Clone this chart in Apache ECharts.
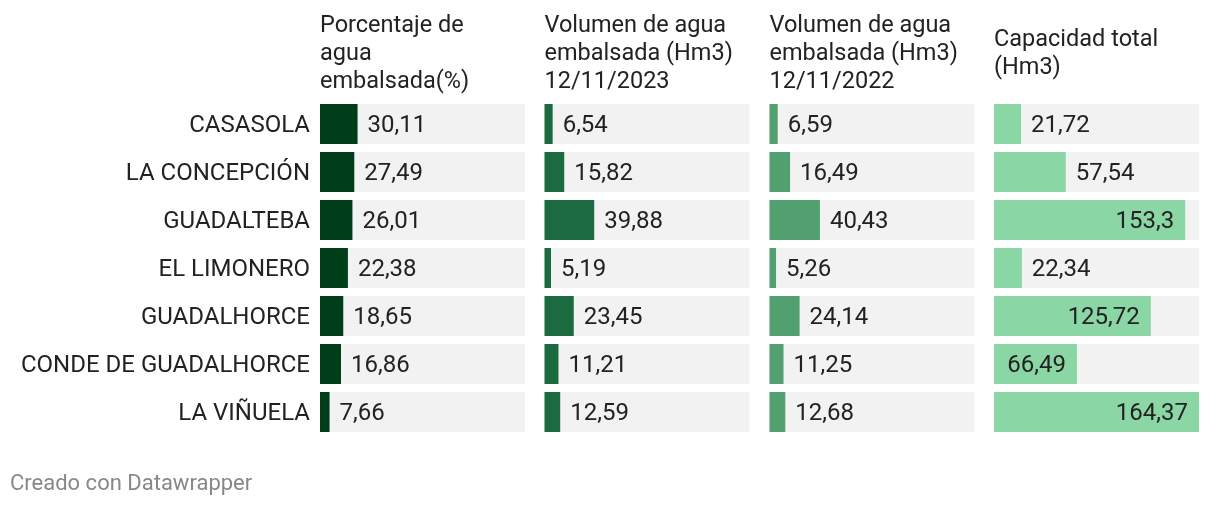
<!DOCTYPE html>
<html><head><meta charset="utf-8">
<script src="https://cdn.jsdelivr.net/npm/echarts@6/dist/echarts.min.js"></script>
<style>html,body{margin:0;padding:0;background:#fff}#c{width:1220px;height:508px}</style>
</head><body><div id="c"></div>
<script>
const categories = ["CASASOLA","LA CONCEPCIÓN","GUADALTEBA","EL LIMONERO","GUADALHORCE","CONDE DE GUADALHORCE","LA VIÑUELA"];
const porcentaje = [30.11,27.49,26.01,22.38,18.65,16.86,7.66];
const volumen2023 = [6.54,15.82,39.88,5.19,23.45,11.21,12.59];
const volumen2022 = [6.59,16.49,40.43,5.26,24.14,11.25,12.68];
const capacidad = [21.72,57.54,153.3,22.34,125.72,66.49,164.37];
const headers = ["Porcentaje de\nagua\nembalsada(%)","Volumen de agua\nembalsada (Hm3)\n12/11/2023","Volumen de agua\nembalsada (Hm3)\n12/11/2022","Capacidad total\n(Hm3)"];
const footer = "Creado con Datawrapper";

const seriesData = [porcentaje, volumen2023, volumen2022, capacidad];
const colors = ["#003d19","#1c6b40","#52a06f","#8ad6a5"];
const FONT = "Roboto, 'Noto Sans', sans-serif";
const scaleMax = Math.max(...seriesData.flat());
const lefts = [320, 544.5, 769.5, 994];
const W = 205;
const fmt = v => String(v).replace('.', ',');

const grids = [], xAxes = [], yAxes = [], series = [], graphics = [];
seriesData.forEach((arr, i) => {
  grids.push({left: lefts[i], top: 100, width: W, height: 336});
  xAxes.push({type:'value', gridIndex:i, min:0, max:scaleMax, show:false});
  yAxes.push({type:'category', gridIndex:i, data:categories, inverse:true,
    axisLine:{show:false}, axisTick:{show:false}, splitLine:{show:false},
    axisLabel:{show:i===0, margin:10, formatter: v => '{a|' + v + '}',
      rich:{a:{fontSize:24, color:'#222', fontFamily:FONT, padding:[4,0,0,0]}}}});
  series.push({type:'bar', xAxisIndex:i, yAxisIndex:i, barWidth:40,
    showBackground:true, backgroundStyle:{color:'#f2f2f2'},
    itemStyle:{color:colors[i]},
    data: arr.map(v => {
      // label goes inside the bar when the bar is wide enough to hold it
      const inside = (v / scaleMax) * W > 78;
      return {value:v, label:{show:true, position: inside ? 'insideRight' : 'right',
        distance: inside ? 11 : 10, offset:[0,2], formatter: fmt(v), fontSize:24, color:'#222', fontFamily:FONT}};
    }),
    animation:false});
  const nLines = headers[i].split('\n').length;
  graphics.push({type:'text', left: lefts[i], top: 54 - nLines*14, z:10,
    style:{text: headers[i], font: '23.5px '+FONT, fill:'#222', lineHeight:28}});
});
graphics.push({type:'text', left:10, top:473, style:{text:footer, font:'22px '+FONT, fill:'#888'}});

const chart = echarts.init(document.getElementById('c'));
chart.setOption({animation:false, grid:grids, xAxis:xAxes, yAxis:yAxes, series:series, graphic:graphics});
</script></body></html>
